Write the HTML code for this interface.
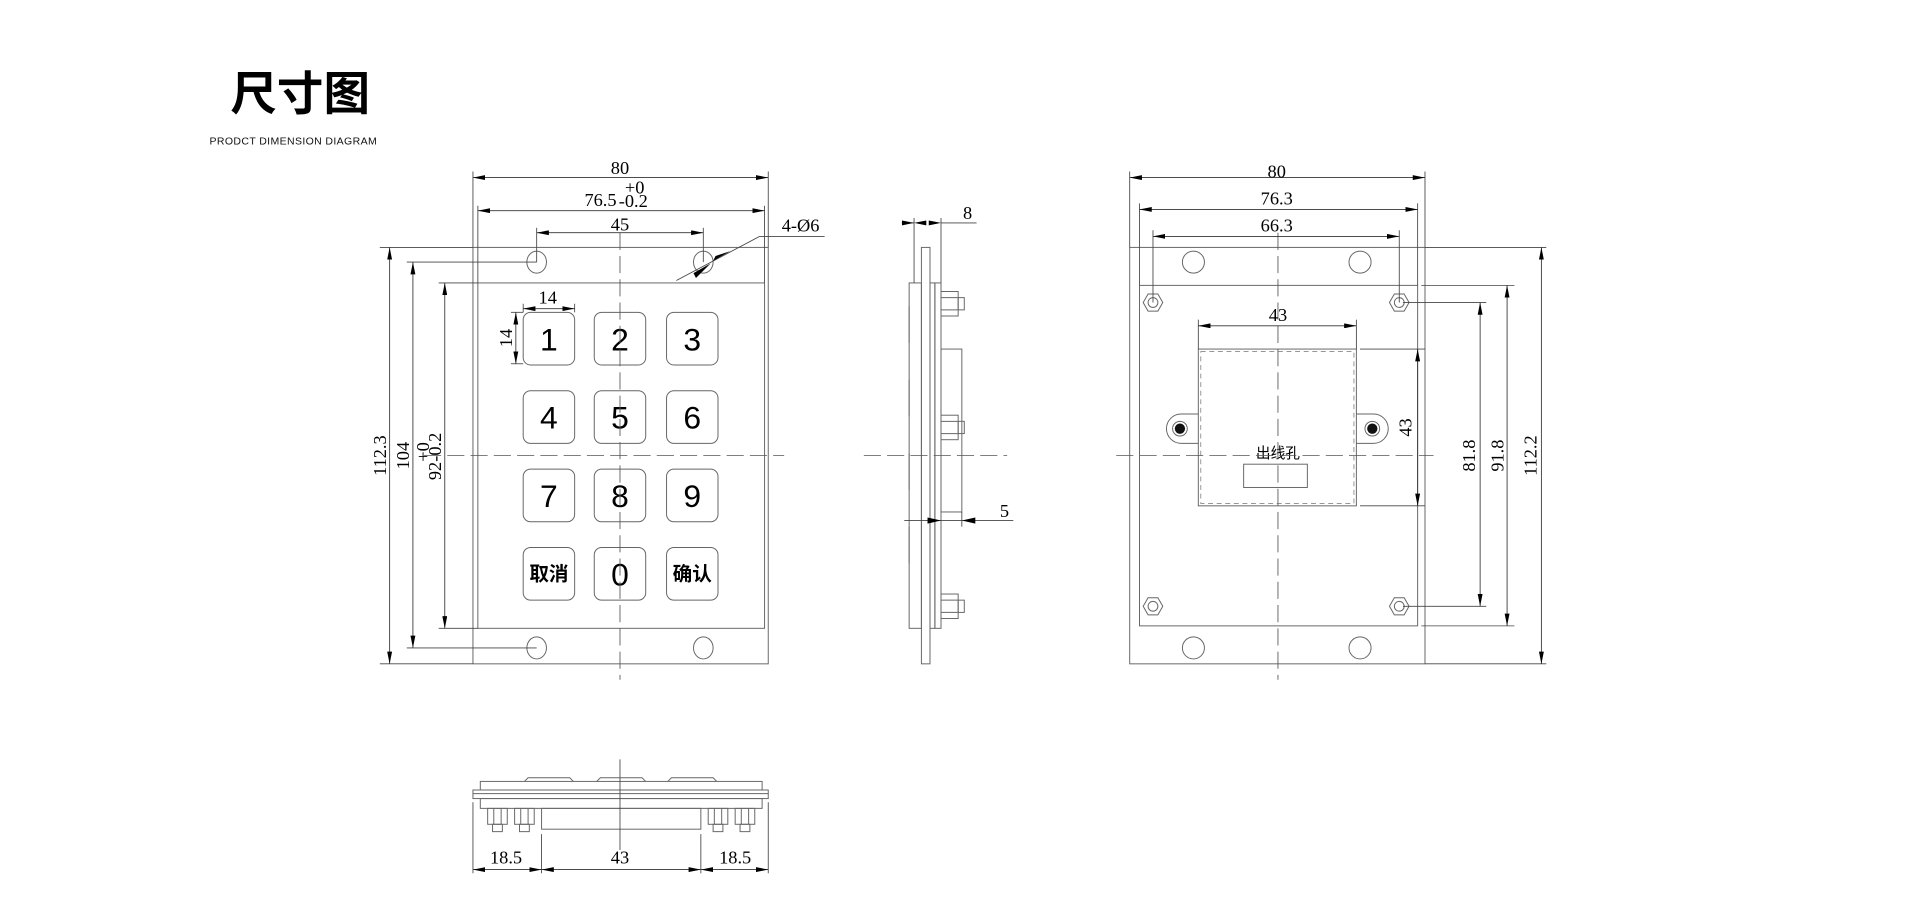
<!DOCTYPE html>
<html><head><meta charset="utf-8"><style>
html,body{margin:0;padding:0;background:#fff;}
svg{display:block;}
.l{stroke:#666;stroke-width:0.8;fill:none;}
.d{stroke:#444;stroke-width:0.7;fill:none;}
.c{stroke:#555;stroke-width:0.7;fill:none;stroke-dasharray:14 5;}
.dim{stroke:#333;stroke-width:0.7;fill:none;marker-start:url(#a);marker-end:url(#a);}
.t{font-family:"Liberation Serif",serif;font-size:15px;fill:#000;}
.k{font-family:"Liberation Sans","Noto Sans CJK SC",sans-serif;font-size:26px;fill:#000;text-anchor:middle;}
.kc{font-family:"Liberation Sans","Noto Sans CJK SC",sans-serif;font-size:16px;font-weight:bold;fill:#000;text-anchor:middle;}
</style></head><body>
<svg width="1920" height="899" viewBox="0 0 1567 734" preserveAspectRatio="none" xmlns="http://www.w3.org/2000/svg">
<defs>
<marker id="a" viewBox="0 0 10 4" refX="10" refY="2" markerWidth="10" markerHeight="4" markerUnits="userSpaceOnUse" orient="auto-start-reverse">
<path d="M0,0 L10,2 L0,4 Z" fill="#000"/></marker>
</defs>
<text x="188" y="90" font-family="'Liberation Sans','Noto Sans CJK SC',sans-serif" font-size="38" font-weight="bold">尺寸图</text>
<text x="171" y="118" font-family="'Liberation Sans','Noto Sans CJK SC',sans-serif" font-size="8.6" fill="#111" letter-spacing="0.3">PRODCT  DIMENSION  DIAGRAM</text>

<!-- FRONT VIEW -->
<rect class="l" x="386" y="202" width="241" height="340"/>
<rect class="l" x="390" y="231" width="234" height="282"/>
<ellipse class="l" cx="438" cy="214" rx="8" ry="9"/>
<ellipse class="l" cx="574" cy="214" rx="8" ry="9"/>
<ellipse class="l" cx="438" cy="529" rx="8" ry="9"/>
<ellipse class="l" cx="574" cy="529" rx="8" ry="9"/>
<g class="l" stroke="#333">
<rect x="427" y="255" width="42" height="43" rx="6"/><rect x="485" y="255" width="42" height="43" rx="6"/><rect x="544" y="255" width="42" height="43" rx="6"/>
<rect x="427" y="319" width="42" height="43" rx="6"/><rect x="485" y="319" width="42" height="43" rx="6"/><rect x="544" y="319" width="42" height="43" rx="6"/>
<rect x="427" y="383" width="42" height="43" rx="6"/><rect x="485" y="383" width="42" height="43" rx="6"/><rect x="544" y="383" width="42" height="43" rx="6"/>
<rect x="427" y="447" width="42" height="43" rx="6"/><rect x="485" y="447" width="42" height="43" rx="6"/><rect x="544" y="447" width="42" height="43" rx="6"/>
</g>
<text class="k" x="448" y="286">1</text><text class="k" x="506" y="286">2</text><text class="k" x="565" y="286">3</text>
<text class="k" x="448" y="350">4</text><text class="k" x="506" y="350">5</text><text class="k" x="565" y="350">6</text>
<text class="k" x="448" y="414">7</text><text class="k" x="506" y="414">8</text><text class="k" x="565" y="414">9</text>
<text class="kc" x="448" y="474">取消</text><text class="k" x="506" y="478">0</text><text class="kc" x="565" y="474">确认</text>
<line class="c" x1="506" y1="190" x2="506" y2="555"/>
<line class="c" x1="346" y1="372" x2="640" y2="372"/>
<!-- top dims -->
<line class="d" x1="386" y1="140" x2="386" y2="202"/><line class="d" x1="627" y1="140" x2="627" y2="202"/>
<line class="dim" x1="386" y1="145" x2="627" y2="145"/>
<text class="t" x="506" y="142" text-anchor="middle">80</text>
<line class="d" x1="390" y1="168" x2="390" y2="231"/><line class="d" x1="624" y1="168" x2="624" y2="231"/>
<line class="dim" x1="390" y1="172" x2="624" y2="172"/>
<text class="t" x="477" y="168">76.5</text><text class="t" x="510" y="158" font-size="9">+0</text><text class="t" x="505" y="169" font-size="10">-0.2</text>
<line class="d" x1="438" y1="186" x2="438" y2="214"/><line class="d" x1="574" y1="186" x2="574" y2="214"/>
<line class="dim" x1="438" y1="190" x2="574" y2="190"/>
<text class="t" x="506" y="188" text-anchor="middle">45</text>
<!-- 4-Ø6 -->
<line class="d" x1="552" y1="229" x2="620" y2="193"/><line class="d" x1="620" y1="193" x2="673" y2="193"/>
<path d="M566,223 L580,215 L568,227 Z M582,213 L596,205 L584,209 Z" fill="#000"/>
<text class="t" x="638" y="189">4-Ø6</text>
<!-- left dims -->
<line class="d" x1="310" y1="202" x2="386" y2="202"/><line class="d" x1="310" y1="542" x2="386" y2="542"/>
<line class="dim" x1="318" y1="202" x2="318" y2="542"/>
<text class="t" transform="translate(315,372) rotate(-90)" text-anchor="middle">112.3</text>
<line class="d" x1="332" y1="214" x2="438" y2="214"/><line class="d" x1="332" y1="529" x2="438" y2="529"/>
<line class="dim" x1="337" y1="214" x2="337" y2="529"/>
<text class="t" transform="translate(334,372) rotate(-90)" text-anchor="middle">104</text>
<line class="d" x1="358" y1="231" x2="390" y2="231"/><line class="d" x1="358" y1="513" x2="390" y2="513"/>
<line class="dim" x1="363" y1="231" x2="363" y2="513"/>
<g transform="translate(360,372) rotate(-90)"><text class="t" x="-20" y="0">92</text><text class="t" x="-5" y="-10" font-size="9">+0</text><text class="t" x="-5" y="0" font-size="10">-0.2</text></g>
<line class="d" x1="427" y1="248" x2="427" y2="255"/><line class="d" x1="469" y1="248" x2="469" y2="255"/>
<line class="dim" x1="427" y1="252" x2="469" y2="252"/>
<text class="t" x="447" y="248" text-anchor="middle">14</text>
<line class="d" x1="417" y1="255" x2="427" y2="255"/><line class="d" x1="417" y1="297" x2="427" y2="297"/>
<line class="dim" x1="421" y1="255" x2="421" y2="297"/>
<text class="t" transform="translate(418,276) rotate(-90)" text-anchor="middle">14</text>

<!-- SIDE VIEW -->
<rect class="l" x="752" y="202" width="7" height="340"/>
<rect class="l" x="742" y="231" width="10" height="282"/>
<path class="l" d="M742,250 v30 M742,310 v30 M742,370 v30 M742,430 v30"/>
<rect class="l" x="759" y="231" width="4" height="282"/>
<rect class="l" x="763" y="231" width="5" height="282"/>
<g class="l">
<rect x="768" y="238" width="14" height="20"/><rect x="782" y="243" width="5" height="10"/><line x1="768" y1="243" x2="782" y2="243"/><line x1="768" y1="253" x2="782" y2="253"/>
<rect x="768" y="339" width="14" height="20"/><rect x="782" y="344" width="5" height="10"/><line x1="768" y1="344" x2="782" y2="344"/><line x1="768" y1="354" x2="782" y2="354"/>
<rect x="768" y="485" width="14" height="20"/><rect x="782" y="490" width="5" height="10"/><line x1="768" y1="490" x2="782" y2="490"/><line x1="768" y1="500" x2="782" y2="500"/>
<rect x="768" y="285" width="17" height="133"/>
</g>
<line class="c" x1="705" y1="372" x2="822" y2="372"/>
<line class="d" x1="746" y1="178" x2="746" y2="231"/><line class="d" x1="768" y1="178" x2="768" y2="231"/>
<line class="d" x1="768" y1="182" x2="797" y2="182"/>
<line class="dim" x1="736" y1="182" x2="746" y2="182" style="marker-start:none"/>
<path d="M746,182 l10,-2 v4 Z M768,182 l-10,-2 v4 Z" fill="#000"/>
<text class="t" x="786" y="179">8</text>
<line class="d" x1="738" y1="425" x2="827" y2="425"/><line class="d" x1="785" y1="418" x2="785" y2="430"/>
<path d="M768,425 l-11,-2.5 v5 Z M785,425 l11,-2.5 v5 Z" fill="#000"/>
<text class="t" x="816" y="422">5</text>

<!-- BACK VIEW -->
<rect class="l" x="922" y="202" width="241" height="340"/>
<rect class="l" x="930" y="233" width="227" height="278"/>
<circle class="l" cx="974" cy="214" r="9"/><circle class="l" cx="1110" cy="214" r="9"/>
<circle class="l" cx="974" cy="529" r="9"/><circle class="l" cx="1110" cy="529" r="9"/>
<g class="l">
<polygon points="933,247 937,240 945,240 949,247 945,254 937,254"/><circle cx="941" cy="247" r="4"/>
<polygon points="1134,247 1138,240 1146,240 1150,247 1146,254 1138,254"/><circle cx="1142" cy="247" r="4"/>
<polygon points="933,495 937,488 945,488 949,495 945,502 937,502"/><circle cx="941" cy="495" r="4"/>
<polygon points="1134,495 1138,488 1146,488 1150,495 1146,502 1138,502"/><circle cx="1142" cy="495" r="4"/>
<rect x="978" y="285" width="129" height="128"/>
<path d="M978,338 h-14 a12,12 0 0 0 0,24 h14 M1107,338 h14 a12,12 0 0 1 0,24 h-14"/>
<rect x="1015" y="379" width="52" height="19"/>
</g>
<rect x="980" y="287" width="125" height="124" fill="none" stroke="#888" stroke-width="0.7" stroke-dasharray="4 3"/>
<circle cx="963" cy="350" r="6" fill="none" stroke="#666" stroke-width="0.8"/><circle cx="963" cy="350" r="4.2" fill="#111"/>
<circle cx="1120" cy="350" r="6" fill="none" stroke="#666" stroke-width="0.8"/><circle cx="1120" cy="350" r="4.2" fill="#111"/>
<text x="1043" y="374" text-anchor="middle" font-family="'Liberation Sans','Noto Sans CJK SC',sans-serif" font-size="12">出线孔</text>
<line class="c" x1="1043" y1="190" x2="1043" y2="555"/>
<line class="c" x1="911" y1="372" x2="1170" y2="372"/>
<line class="d" x1="922" y1="140" x2="922" y2="202"/><line class="d" x1="1163" y1="140" x2="1163" y2="202"/>
<line class="dim" x1="922" y1="145" x2="1163" y2="145"/>
<text class="t" x="1042" y="145" text-anchor="middle">80</text>
<line class="d" x1="930" y1="166" x2="930" y2="233"/><line class="d" x1="1157" y1="166" x2="1157" y2="233"/>
<line class="dim" x1="930" y1="171" x2="1157" y2="171"/>
<text class="t" x="1042" y="167" text-anchor="middle">76.3</text>
<line class="d" x1="941" y1="188" x2="941" y2="247"/><line class="d" x1="1142" y1="188" x2="1142" y2="247"/>
<line class="dim" x1="941" y1="193" x2="1142" y2="193"/>
<text class="t" x="1042" y="189" text-anchor="middle">66.3</text>
<line class="d" x1="978" y1="261" x2="978" y2="285"/><line class="d" x1="1107" y1="261" x2="1107" y2="285"/>
<line class="dim" x1="978" y1="266" x2="1107" y2="266"/>
<text class="t" x="1043" y="262" text-anchor="middle">43</text>
<line class="d" x1="1110" y1="285" x2="1163" y2="285"/><line class="d" x1="1110" y1="413" x2="1163" y2="413"/>
<line class="dim" x1="1157" y1="285" x2="1157" y2="413"/>
<text class="t" transform="translate(1152,349) rotate(-90)" text-anchor="middle">43</text>
<line class="d" x1="1145" y1="247" x2="1213" y2="247"/><line class="d" x1="1145" y1="495" x2="1213" y2="495"/>
<line class="dim" x1="1208" y1="247" x2="1208" y2="495"/>
<text class="t" transform="translate(1204,372) rotate(-90)" text-anchor="middle">81.8</text>
<line class="d" x1="1160" y1="233" x2="1236" y2="233"/><line class="d" x1="1160" y1="511" x2="1236" y2="511"/>
<line class="dim" x1="1230" y1="233" x2="1230" y2="511"/>
<text class="t" transform="translate(1227,372) rotate(-90)" text-anchor="middle">91.8</text>
<line class="d" x1="1163" y1="202" x2="1262" y2="202"/><line class="d" x1="1163" y1="542" x2="1262" y2="542"/>
<line class="dim" x1="1258" y1="202" x2="1258" y2="542"/>
<text class="t" transform="translate(1254,372) rotate(-90)" text-anchor="middle">112.2</text>

<!-- BOTTOM VIEW -->
<g class="l">
<path d="M428,638 l3,-3 h34 l3,3 M487,638 l3,-3 h34 l3,3 M545,638 l3,-3 h34 l3,3"/>
<rect x="392" y="638" width="230" height="7"/>
<rect x="386" y="645" width="241" height="7"/>
<line x1="386" y1="648" x2="627" y2="648"/>
<rect x="392" y="652" width="230" height="8"/>
<rect x="398" y="660" width="16" height="13"/><rect x="402" y="673" width="8" height="6"/><line x1="403" y1="660" x2="403" y2="673"/><line x1="409" y1="660" x2="409" y2="673"/>
<rect x="420" y="660" width="16" height="13"/><rect x="424" y="673" width="8" height="6"/><line x1="425" y1="660" x2="425" y2="673"/><line x1="431" y1="660" x2="431" y2="673"/>
<rect x="578" y="660" width="16" height="13"/><rect x="582" y="673" width="8" height="6"/><line x1="583" y1="660" x2="583" y2="673"/><line x1="589" y1="660" x2="589" y2="673"/>
<rect x="600" y="660" width="16" height="13"/><rect x="604" y="673" width="8" height="6"/><line x1="605" y1="660" x2="605" y2="673"/><line x1="611" y1="660" x2="611" y2="673"/>
<rect x="442" y="660" width="130" height="17"/>
</g>
<line class="d" x1="506" y1="620" x2="506" y2="694"/>
<line class="d" x1="386" y1="655" x2="386" y2="713"/><line class="d" x1="627" y1="655" x2="627" y2="713"/>
<line class="d" x1="442" y1="681" x2="442" y2="713"/><line class="d" x1="572" y1="681" x2="572" y2="713"/>
<line class="dim" x1="386" y1="710" x2="442" y2="710"/>
<line class="dim" x1="442" y1="710" x2="572" y2="710"/>
<line class="dim" x1="572" y1="710" x2="627" y2="710"/>
<text class="t" x="413" y="705" text-anchor="middle">18.5</text>
<text class="t" x="506" y="705" text-anchor="middle">43</text>
<text class="t" x="600" y="705" text-anchor="middle">18.5</text>
</svg>
</body></html>
